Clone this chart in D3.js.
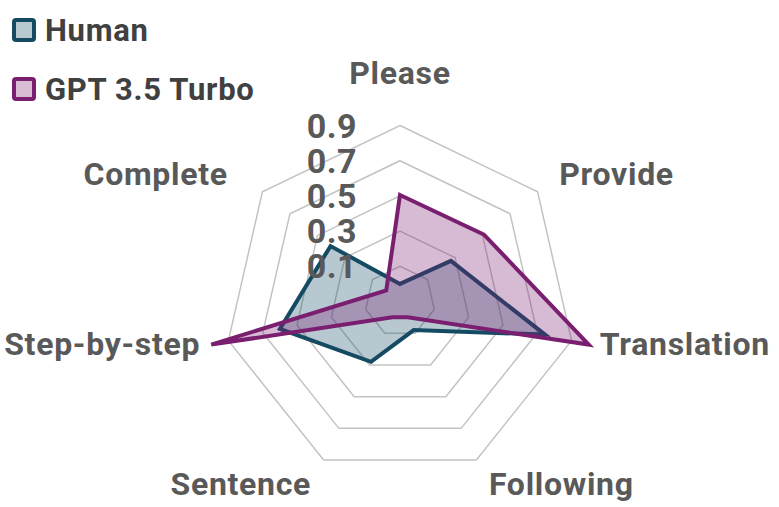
<!DOCTYPE html>
<html>
<head>
<meta charset="utf-8">
<script src="https://cdn.jsdelivr.net/npm/d3@7"></script>
<style>
  html, body { margin: 0; padding: 0; background: #fff; }
  svg { display: block; }
  text { font-family: Roboto, "Noto Sans", sans-serif; font-weight: 700; }
</style>
</head>
<body>
<svg id="chart" width="779" height="507"></svg>
<script>
// ---- data ----
const categories = ["Please", "Provide", "Translation", "Following", "Sentence", "Step-by-step", "Complete"];
const seriesNames = ["Human", "GPT 3.5 Turbo"];
const humanValues = [0.0, 0.27, 0.745, 0.08, 0.28, 0.60, 0.405];
const gptValues = [0.505, 0.51, 1.0, 0.0, 0.0, 1.0, 0.0];
const tickValues = [0.1, 0.3, 0.5, 0.7, 0.9];
const tickLabels = ["0.1", "0.3", "0.5", "0.7", "0.9"];

// ---- layout ----
const W = 779, H = 507;
const cx = 400, cy = 301.5;
const R = 176;
const colors = {
  Human: { stroke: "#154a63", fill: "rgba(21,74,99,0.3)", legendFill: "#b9c9d0" },
  "GPT 3.5 Turbo": { stroke: "#7a1f70", fill: "rgba(122,31,112,0.3)", legendFill: "#d7bcd4" }
};

const svg = d3.select("#chart");
const g = svg.append("g").attr("transform", `translate(${cx},${cy})`);

const r = d3.scaleLinear().domain([-0.1, 0.9]).range([0, R]);
const angle = d3.scalePoint().domain(categories).range([0, 2 * Math.PI * (categories.length - 1) / categories.length]);

const lineRadial = d3.lineRadial()
  .angle(d => angle(d.cat))
  .radius(d => r(d.v))
  .curve(d3.curveLinearClosed);

// grid rings
g.append("g").selectAll("path")
  .data(tickValues)
  .join("path")
  .attr("d", t => lineRadial(categories.map(c => ({ cat: c, v: t }))))
  .attr("fill", "none")
  .attr("stroke", "#c3c3c3")
  .attr("stroke-width", 1.5);

// series
const series = [
  { name: seriesNames[0], values: humanValues },
  { name: seriesNames[1], values: gptValues }
];
series.forEach(s => {
  const pts = categories.map((c, i) => ({ cat: c, v: s.values[i] }));
  g.append("path")
    .attr("d", lineRadial(pts))
    .attr("fill", colors[s.name].fill)
    .attr("stroke", colors[s.name].stroke)
    .attr("stroke-width", 4)
    .attr("stroke-linejoin", "miter")
    .attr("stroke-miterlimit", 10);
});

// category labels
const gap = 29;
g.append("g").selectAll("text")
  .data(categories)
  .join("text")
  .each(function (c) {
    const a = angle(c);
    const dx = Math.sin(a), dy = -Math.cos(a);
    const rr = R + gap;
    let x = dx * rr, y = dy * rr;
    let anchor = "middle";
    if (dx > 0.1) anchor = "start";
    else if (dx < -0.1) anchor = "end";
    if (dy < -0.95) y -= 24;
    if (dx < -0.1 && dy < -0.5) x -= 12;
    if (dx > 0.1 && dy < -0.5) x -= 1;
    if (Math.abs(dx) > 0.9) y -= 3;
    if (dy > 0.8) { y -= 2; }
    d3.select(this)
      .attr("x", x).attr("y", y)
      .attr("text-anchor", anchor)
      .attr("dominant-baseline", "central")
      .attr("font-size", 32)
      .attr("letter-spacing", 0.7)
      .attr("fill", "#595959")
      .text(c);
  });

// tick labels
g.append("g").selectAll("text")
  .data(tickValues)
  .join("text")
  .attr("x", -43)
  .attr("y", t => -r(t))
  .attr("text-anchor", "end")
  .attr("dominant-baseline", "central")
  .attr("font-size", 34)
  .attr("letter-spacing", 0.5)
  .attr("fill", "#595959")
  .text((t, i) => tickLabels[i]);

// legend
const legend = svg.append("g");
series.forEach((s, i) => {
  const y0 = 18 + i * 59;
  legend.append("rect")
    .attr("x", 14).attr("y", y0 + 2)
    .attr("width", 20).attr("height", 20)
    .attr("rx", 2)
    .attr("fill", colors[s.name].legendFill)
    .attr("stroke", colors[s.name].stroke)
    .attr("stroke-width", 4);
  legend.append("text")
    .attr("x", 45).attr("y", y0 + 12)
    .attr("dominant-baseline", "central")
    .attr("font-size", 31)
    .attr("letter-spacing", 0.7)
    .attr("fill", "#404040")
    .text(s.name);
});
</script>
</body>
</html>
